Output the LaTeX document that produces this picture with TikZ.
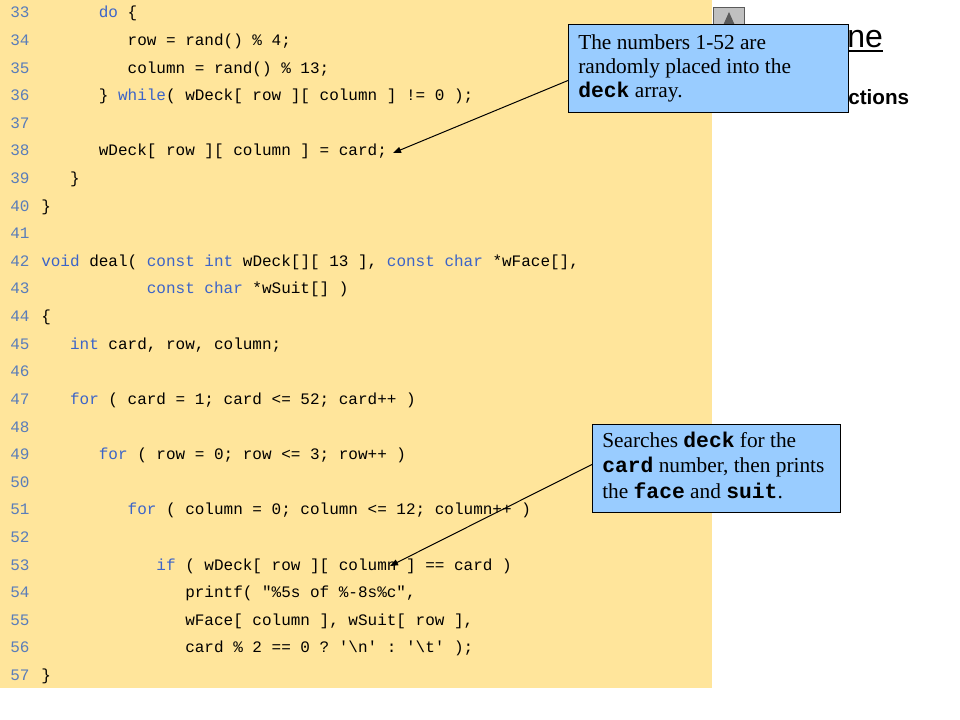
\documentclass[tikz,border=0pt]{standalone}
\usepackage{fontspec}
\setmainfont{Liberation Serif}
\setsansfont{Liberation Sans}
\setmonofont{Liberation Mono}
\usetikzlibrary{arrows.meta}
\definecolor{codebg}{RGB}{255,229,155}
\definecolor{callbg}{RGB}{153,204,255}
\definecolor{kwcol}{RGB}{60,100,200}
\definecolor{lnum}{RGB}{90,125,185}
\definecolor{btn}{RGB}{192,192,192}
\definecolor{btndark}{RGB}{90,90,90}
\newcommand{\kwd}[1]{\textcolor{kwcol}{#1}}
\newcommand{\mbf}[1]{{\ttfamily\bfseries #1}}
\begin{document}
\begin{tikzpicture}[x=0.75pt,y=-0.75pt,
  codeline/.style={anchor=base west, inner sep=0pt, font=\fontsize{12}{14}\selectfont\ttfamily},
  lno/.style={codeline, text=lnum},
  calloutbox/.style={draw=black, line width=0.75pt, fill=callbg, anchor=north west, inner sep=0pt},
  callouttext/.style={anchor=base west, inner sep=0pt, align=left},
  arr/.style={-{Triangle[length=6pt,width=4.5pt]}, line width=0.75pt},
  ttl/.style={anchor=base west, inner sep=0pt, font=\sffamily\fontsize{24}{28}\selectfont},
  subttl/.style={anchor=base west, inner sep=0pt, font=\sffamily\bfseries\fontsize{15.5}{18}\selectfont}
]
\useasboundingbox (0,0) rectangle (960,720);
\fill[white] (0,0) rectangle (960,720);
% code background
\fill[codebg] (0,0) rectangle (712,688);
% scroll button
\draw[fill=btn, draw=btndark, line width=0.75pt] (713,8) rectangle (744,34);
\fill[btndark] (721,30) -- (729,12) -- (737,30) -- cycle;
% title fragments
\node[ttl] (title) at (847,48) {ne};
\draw[line width=1.3pt] ([yshift=-2.2pt]title.base west) -- ([yshift=-2.2pt]title.base east);
\node[subttl] (sub) at (848,105) {ctions};
% line numbers
\foreach \n in {33,...,57}
  \node[lno] (ln\n) at (10,{18+(\n-33)*27.6}) {\n};
% code lines (column k at x = 41 + 9.6 k)
\node[codeline] (c33) at (98.6,{18+0*27.6}) {\kwd{do} \{};
\node[codeline] (c34) at (127.4,{18+1*27.6}) {row = rand() \% 4;};
\node[codeline] (c35) at (127.4,{18+2*27.6}) {column = rand() \% 13;};
\node[codeline] (c36) at (98.6,{18+3*27.6}) {\} \kwd{while}( wDeck[ row ][ column ] != 0 );};
\node[codeline] (c38) at (98.6,{18+5*27.6}) {wDeck[ row ][ column ] = card;};
\node[codeline] (c39) at (69.8,{18+6*27.6}) {\}};
\node[codeline] (c40) at (41,{18+7*27.6}) {\}};
\node[codeline] (c42) at (41,{18+9*27.6}) {\kwd{void} deal( \kwd{const} \kwd{int} wDeck[][ 13 ], \kwd{const} \kwd{char} *wFace[],};
\node[codeline] (c43) at (146.6,{18+10*27.6}) {\kwd{const} \kwd{char} *wSuit[] )};
\node[codeline] (c44) at (41,{18+11*27.6}) {\{};
\node[codeline] (c45) at (69.8,{18+12*27.6}) {\kwd{int} card, row, column;};
\node[codeline] (c47) at (69.8,{18+14*27.6}) {\kwd{for} ( card = 1; card <= 52; card++ )};
\node[codeline] (c49) at (98.6,{18+16*27.6}) {\kwd{for} ( row = 0; row <= 3; row++ )};
\node[codeline] (c51) at (127.4,{18+18*27.6}) {\kwd{for} ( column = 0; column <= 12; column++ )};
\node[codeline] (c53) at (156.2,{18+20*27.6}) {\kwd{if} ( wDeck[ row ][ column ] == card )};
\node[codeline] (c54) at (185,{18+21*27.6}) {printf( "\%5s of \%-8s\%c",};
\node[codeline] (c55) at (185,{18+22*27.6}) {wFace[ column ], wSuit[ row ],};
\node[codeline] (c56) at (185,{18+23*27.6}) {card \% 2 == 0 ? '\textbackslash n' : '\textbackslash t' );};
\node[codeline] (c57) at (41,{18+24*27.6}) {\}};
% callouts
\node[calloutbox, minimum width=210pt, minimum height=66pt] (box1) at (568,24) {};
\node[callouttext, font=\fontsize{16}{18}\selectfont] (txt1) at (578,98)
  {The numbers 1-52 are\\randomly placed into the\\\mbf{deck} array.};
\node[calloutbox, minimum width=186pt, minimum height=66pt] (box2) at (592,424) {};
\node[callouttext, font=\fontsize{16}{19}\selectfont] (txt2) at (602,498)
  {Searches \mbf{deck} for the\\\mbf{card} number, then prints\\the \mbf{face} and \mbf{suit}.};
% arrows
\coordinate (tip1) at (393,153);
\coordinate (tip2) at (390,566);
\draw[arr] ([yshift=-9pt]box1.west) -- (tip1);
\draw[arr] ([yshift=3pt]box2.west) -- (tip2);
\end{tikzpicture}
\end{document}
